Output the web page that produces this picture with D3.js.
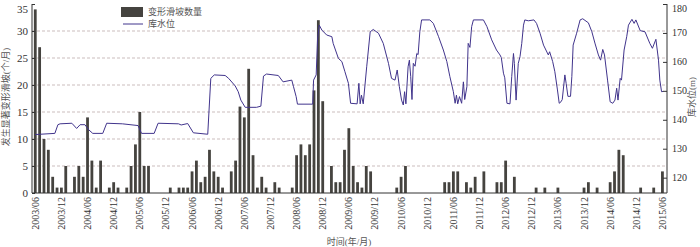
<!DOCTYPE html>
<html lang="zh">
<head>
<meta charset="UTF-8">
<title>变形滑坡数量与库水位</title>
<script src="https://d3js.org/d3.v7.min.js"></script>
<style>
  body { margin: 0; background: #fff; }
  svg text { font-family: "Liberation Serif", "Noto Sans CJK SC", serif; }
</style>
</head>
<body>
<div id="chart"></div>
<script>
// 月份序号: 0 = 2003/06, 144 = 2015/06
const tickLabels = ["2003/06","2003/12","2004/06","2004/12","2005/06","2005/12","2006/06","2006/12",
  "2007/06","2007/12","2008/06","2008/12","2009/06","2009/12","2010/06","2010/12","2011/06","2011/12",
  "2012/06","2012/12","2013/06","2013/12","2014/06","2014/12","2015/06"];

// 每月发生显著变形的滑坡数量 (2003/06 - 2015/06)
const slideCount = [
  34,27,10,8,3,1,1,5,0,3,5,3,14,6,1,6,0,1,2,1,0,1,5,9,15,5,5,0,0,0,
  0,1,0,1,1,1,4,6,2,3,8,4,3,1,0,4,6,16,14,23,7,1,3,1,0,2,1,0,0,1,
  7,9,7,9,19,32,17,0,5,2,2,8,12,5,2,1,5,4,0,0,0,0,0,1,3,5,0,0,0,0,
  0,0,0,0,2,2,4,4,0,2,1,3,0,4,0,0,2,2,6,0,3,0,0,0,0,1,0,1,0,0,
  1,0,0,0,0,0,1,2,0,1,0,0,2,4,8,7,0,0,0,1,0,0,1,0,4
];

// 库水位 (m): 时间位置(月序号) 与 水位
const levelT = [0,4.5,5.2,5.7,8.4,9.5,10.3,11.4,12.3,13.2,15.5,16.4,20,23.6,24.4,27.3,28.2,32.9,33.5,35,
  36.3,39.6,40.3,41.1,43.6,44.4,45.9,46.6,47.2,48.2,50.8,51.8,52.4,53.1,55.8,56.9,58.9,59.3,59.9,60.2,
  63.7,63.9,64.5,64.8,65.2,65.8,66.9,68.1,68.4,69.6,70.4,71.1,71.9,72.4,73.9,74.3,74.6,74.9,75.3,76.1,
  76.9,77.6,78.8,79.9,81.1,81.8,82.6,83.1,83.6,84.1,84.5,84.8,85.1,85.6,85.9,86.2,86.5,86.8,87.2,87.6,
  87.9,88.3,88.7,90.6,91.4,92.6,93.7,94.5,95.2,96,96.4,96.7,97,97.4,97.9,98.3,98.6,99.1,99.4,99.8,
  100.2,100.6,102.9,103.7,104.8,105.9,106.7,107,107.5,107.8,108.3,109,109.4,109.8,110,110.4,110.9,111.3,111.7,112.1,
  112.4,113.2,114.5,115.1,115.9,116.7,117.8,118.1,118.8,119.3,119.9,120.3,120.7,121,121.6,121.9,122.3,122.9,123.2,123.5,
  124.3,125.1,125.7,127,127.8,128.5,129.3,129.8,130.3,130.7,131.4,132,132.6,133.1,133.5,133.8,134.3,134.6,135.2,135.8,
  136.2,137,137.5,137.9,138.9,140,141.1,141.7,142.5,143.1,143.4,143.8,144.2];
const levelM = [134.9,135.3,138.3,138.6,138.8,137,138.3,138.3,136.5,135.3,135.3,138.8,138.6,138,135.3,135.3,138.8,138.6,138.2,138.7,
  135.5,135,154.3,155.5,155.3,154.3,151.7,149.7,146.8,144.3,144.3,144.7,155.1,155.8,155.3,153.1,153.7,151.4,148,145.4,
  145.4,153.7,155.5,167.6,172.7,171,169.3,168.7,166.4,161.2,160.1,156.6,152.6,145.7,145.5,152.6,145.5,148.5,145.5,158.3,
  170.4,171.2,169.9,166.4,159.5,154.3,153.7,157.2,151.4,146.8,145.1,149.7,145.5,158.3,160.6,155,147,159.5,158.5,162.9,
  162.5,170.4,174.5,174.5,173.3,168.7,164.1,160.1,154.9,149.7,145.7,148.5,145.5,148,145.7,153.1,147,151.4,166.4,165,
  172.2,174.5,174.5,172.2,167.6,164.1,162.4,161.5,156.1,154.5,145.7,145.5,154.9,162.9,159.5,146.8,159.5,161.8,166.4,172.7,
  174.5,174.2,174.5,173.3,169.9,165.8,162.4,163.5,160.1,156.6,150.3,145.7,146.2,147,155.5,152.5,148.1,148.1,154.9,165.8,
  169.9,174.5,174.9,173.5,170.4,166.5,162.4,160.6,164.3,162.4,153.7,146.2,145.7,146.8,150.9,146.8,154.3,153.7,164.1,168.7,
  172.7,174.7,173.3,174.5,170.8,170.4,166.4,164.7,167.8,160.6,153.7,149.7,149.8];

const W = 700, H = 247;
const plot = {left: 32, right: 667, top: 4, bottom: 193};

const svg = d3.select("#chart").append("svg")
  .attr("width", W).attr("height", H);

const x = d3.scaleLinear().domain([-0.75, 145.05]).range([plot.left, plot.right]);
const yL = d3.scaleLinear().domain([0, 35]).range([plot.bottom, plot.top]);
const yR = d3.scaleLinear().domain([114.7, 180]).range([plot.bottom, plot.top]);

// 网格线
svg.append("g").selectAll("line")
  .data([5, 10, 15, 20, 25, 30])
  .join("line")
  .attr("x1", plot.left).attr("x2", plot.right)
  .attr("y1", d => yL(d)).attr("y2", d => yL(d))
  .attr("stroke", "#cbbdbd").attr("stroke-width", 1)
  .attr("stroke-dasharray", "3,2");

// 柱
svg.append("g").selectAll("rect")
  .data(slideCount.map((v, i) => ({i, v})).filter(d => d.v > 0))
  .join("rect")
  .attr("x", d => x(d.i) - 1.4)
  .attr("width", 2.8)
  .attr("y", d => yL(d.v))
  .attr("height", d => yL(0) - yL(d.v))
  .attr("fill", "#45433f");

// 库水位线
const line = d3.line().x(d => x(d[0])).y(d => yR(d[1]));
svg.append("path")
  .datum(levelT.map((t, k) => [t, levelM[k]]))
  .attr("d", line)
  .attr("fill", "none")
  .attr("stroke", "#41348c")
  .attr("stroke-width", 1);

// 坐标轴
const axisColor = "#333";
const leftAxis = svg.append("g")
  .attr("transform", `translate(${plot.left},0)`)
  .call(d3.axisRight(yL).tickValues(d3.range(0, 36, 5)).tickSize(3).tickFormat(""));
leftAxis.select(".domain").attr("d", `M0,${plot.top}V${plot.bottom}`);
svg.append("g").selectAll("text")
  .data(d3.range(0, 36, 5))
  .join("text")
  .attr("x", 28).attr("y", d => Math.max(yL(d), 9)).attr("dy", "0.35em")
  .attr("text-anchor", "end")
  .attr("font-size", 11).attr("fill", "#333")
  .text(d => d);

const rightAxis = svg.append("g")
  .attr("transform", `translate(${plot.right},0)`)
  .call(d3.axisLeft(yR).tickValues(d3.range(120, 181, 10)).tickSize(4).tickFormat(""));
rightAxis.select(".domain").attr("d", `M0,${plot.top}V${plot.bottom}`);
svg.append("g").selectAll("text")
  .data(d3.range(120, 181, 10))
  .join("text")
  .attr("x", 672).attr("y", d => Math.max(yR(d), 8)).attr("dy", "0.35em")
  .attr("font-size", 10).attr("fill", "#333")
  .text(d => d);

svg.append("line")
  .attr("x1", plot.left).attr("x2", plot.right)
  .attr("y1", plot.bottom).attr("y2", plot.bottom)
  .attr("stroke", axisColor);

svg.selectAll(".domain, .tick line").attr("stroke", axisColor);

// x 轴标签（竖排）
svg.append("g").selectAll("text")
  .data(tickLabels)
  .join("text")
  .attr("transform", (d, k) => `translate(${x(k * 6)},197) rotate(-90)`)
  .attr("dy", "0.35em")
  .attr("text-anchor", "end")
  .attr("font-size", 10).attr("fill", "#333")
  .text(d => d);

// 轴标题
svg.append("text")
  .attr("x", 349).attr("y", 244.5)
  .attr("text-anchor", "middle")
  .attr("font-size", 9).attr("fill", "#555")
  .text("时间(年/月)");
svg.append("text")
  .attr("transform", "translate(6,97) rotate(-90)")
  .attr("dy", "0.35em")
  .attr("text-anchor", "middle")
  .attr("font-size", 9).attr("fill", "#555")
  .text("发生显著变形滑坡(个/月)");
svg.append("text")
  .attr("transform", "translate(691.5,97) rotate(-90)")
  .attr("dy", "0.35em")
  .attr("text-anchor", "middle")
  .attr("font-size", 9).attr("fill", "#555")
  .text("库水位(m)");

// 图例
const legend = svg.append("g");
legend.append("rect")
  .attr("x", 121).attr("y", 7).attr("width", 22).attr("height", 10)
  .attr("fill", "#45433f");
legend.append("text")
  .attr("x", 148).attr("y", 12).attr("dy", "0.35em")
  .attr("font-size", 9).attr("fill", "#555")
  .text("变形滑坡数量");
legend.append("line")
  .attr("x1", 123).attr("x2", 143).attr("y1", 24).attr("y2", 24)
  .attr("stroke", "#41348c").attr("stroke-width", 1);
legend.append("text")
  .attr("x", 148).attr("y", 24).attr("dy", "0.35em")
  .attr("font-size", 9).attr("fill", "#555")
  .text("库水位");
</script>
</body>
</html>
